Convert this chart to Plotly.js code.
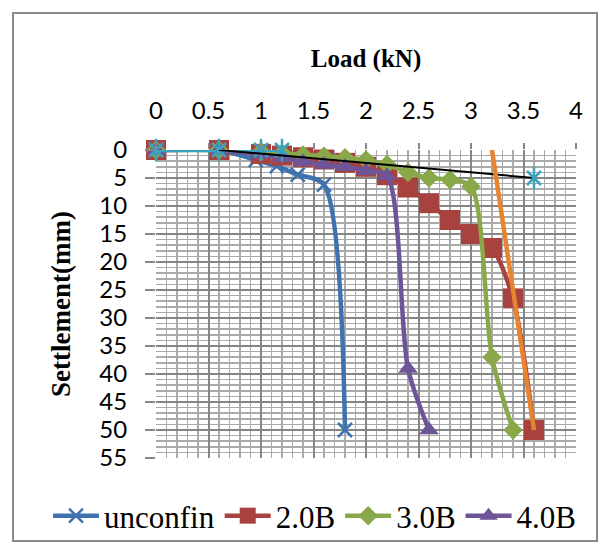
<!DOCTYPE html>
<html>
<head>
<meta charset="utf-8">
<script src="https://cdn.plot.ly/plotly-3.0.1.min.js"></script>
<style>
html,body{margin:0;padding:0;background:#fff;}
#chart{width:599px;height:544px;}
</style>
</head>
<body>
<div id="chart"></div>
<script>
// ---- data ----
const seriesNames = ["unconfin", "2.0B", "3.0B", "4.0B"];

const unconfinLoad   = [0, 0.6, 0.95, 1.15, 1.35, 1.6, 1.8];
const unconfinSettle = [0, 0, 1.8, 2.9, 4.4, 6.2, 50];

const b20Load   = [0, 0.6, 1.0, 1.2, 1.4, 1.6, 1.8, 2.0, 2.2, 2.4, 2.6, 2.8, 3.0, 3.2, 3.4, 3.6];
const b20Settle = [0, 0, 0.7, 1.0, 1.3, 1.7, 2.3, 3.0, 4.5, 6.7, 9.5, 12.5, 15, 17.5, 26.5, 50];

const b30Load   = [0, 0.6, 1.0, 1.2, 1.4, 1.6, 1.8, 2.0, 2.2, 2.4, 2.6, 2.8, 3.0, 3.2, 3.4];
const b30Settle = [0, 0, 0.3, 0.6, 0.9, 1.1, 1.4, 1.8, 2.6, 4.0, 5.0, 5.3, 6.5, 37, 50];

const b40Load   = [0, 0.6, 1.0, 1.2, 1.4, 1.6, 1.8, 2.0, 2.2, 2.4, 2.6];
const b40Settle = [0, 0, 0.8, 1.4, 2.1, 2.6, 3.0, 3.7, 4.6, 39, 50];

// unlabelled helper series
const refLoad   = [0, 0.6, 1.0, 1.2];
const refSettle = [0, 0, 0, 0];
const tangent1Load   = [0.6, 3.6];
const tangent1Settle = [0, 5];
const starLoad   = [3.6];
const starSettle = [5];
const tangent2Load   = [3.2, 3.6];
const tangent2Settle = [0, 50];

const xTickVals = [0, 0.5, 1, 1.5, 2, 2.5, 3, 3.5, 4];
const yTickVals = [0, 5, 10, 15, 20, 25, 30, 35, 40, 45, 50, 55];

// ---- styles ----
const cBlue = "#3f72ae", cRed = "#a8423f", cGreen = "#88a84a", cPurple = "#6e5598",
      cCyan = "#3ba3c0", cOrange = "#e8832f";
const LW = 4.5;

const traces = [
  {x: unconfinLoad, y: unconfinSettle, name: seriesNames[0], mode: "lines+markers", cliponaxis: false,
   line: {color: cBlue, width: LW, shape: "spline", smoothing: 0.8},
   marker: {symbol: "x-thin-open", size: 14, color: cBlue, line: {color: cBlue, width: 2.5}},
   legendrank: 1},
  {x: b20Load, y: b20Settle, name: seriesNames[1], mode: "lines+markers", cliponaxis: false,
   line: {color: cRed, width: LW, shape: "spline", smoothing: 0.8},
   marker: {symbol: "square", size: 20, color: cRed},
   legendrank: 2},
  {x: b30Load, y: b30Settle, name: seriesNames[2], mode: "lines+markers", cliponaxis: false,
   line: {color: cGreen, width: LW, shape: "spline", smoothing: 0.8},
   marker: {symbol: "diamond", size: 15, color: cGreen},
   legendrank: 3},
  {x: b40Load, y: b40Settle, name: seriesNames[3], mode: "lines+markers", cliponaxis: false,
   line: {color: cPurple, width: LW, shape: "spline", smoothing: 0.8},
   marker: {symbol: "triangle-up", size: 17, color: cPurple},
   legendrank: 4},
  {x: refLoad, y: refSettle, mode: "lines+markers", showlegend: false, hoverinfo: "skip", cliponaxis: false,
   line: {color: cCyan, width: LW},
   marker: {symbol: "x-thin-open", size: 14, color: cCyan, line: {color: cCyan, width: 2.5}}},
  {x: refLoad, y: refSettle, mode: "markers", showlegend: false, hoverinfo: "skip", cliponaxis: false,
   marker: {symbol: "line-ns-open", size: 16, color: cCyan, line: {color: cCyan, width: 2.5}}},
  {x: tangent1Load, y: tangent1Settle, mode: "lines", showlegend: false, hoverinfo: "skip", cliponaxis: false,
   line: {color: "#000000", width: 2}},
  {x: starLoad, y: starSettle, mode: "markers", showlegend: false, hoverinfo: "skip", cliponaxis: false,
   marker: {symbol: "x-thin-open", size: 14, color: cCyan, line: {color: cCyan, width: 2.5}}},
  {x: starLoad, y: starSettle, mode: "markers", showlegend: false, hoverinfo: "skip", cliponaxis: false,
   marker: {symbol: "line-ns-open", size: 16, color: cCyan, line: {color: cCyan, width: 2.5}}},
  {x: tangent2Load, y: tangent2Settle, mode: "lines", showlegend: false, hoverinfo: "skip", cliponaxis: false,
   line: {color: cOrange, width: LW}}
];

const L = 156, R = 576, T = 150, B = 458, W = 599, H = 544;
const px2x = p => (p - L) / (R - L);
const px2y = p => (B - p) / (B - T);

const layout = {
  width: W, height: H,
  margin: {l: L, r: W - R, t: T, b: H - B, pad: 0, autoexpand: false},
  paper_bgcolor: "#ffffff", plot_bgcolor: "#ffffff",
  showlegend: true,
  xaxis: {
    side: "top", range: [0, 4], tickvals: xTickVals, ticktext: xTickVals.map(String),
    showgrid: true, gridcolor: "#868686", gridwidth: 2,
    minor: {dtick: 0.1, showgrid: true, gridcolor: "#aaaaaa", gridwidth: 1.5, ticks: ""},
    ticks: "outside", ticklen: 6, tickcolor: "#868686", tickwidth: 2,
    zeroline: false, showline: false, automargin: false,
    tickfont: {family: "Lato, sans-serif", size: 24, color: "#000"},
    ticklabelstandoff: 14,
    title: {text: "<b>Load (kN)</b>", font: {family: "Liberation Serif, serif", size: 25, color: "#000"}, standoff: 20}
  },
  yaxis: {
    range: [55, 0], tickvals: yTickVals, ticktext: yTickVals.map(String),
    showgrid: true, gridcolor: "#868686", gridwidth: 2,
    minor: {dtick: 1, showgrid: true, gridcolor: "#aaaaaa", gridwidth: 1.5, ticks: ""},
    ticks: "outside", ticklen: 10, tickcolor: "#868686", tickwidth: 2,
    zeroline: false, showline: false, automargin: false,
    tickfont: {family: "Lato, sans-serif", size: 24, color: "#000"},
    ticklabelstandoff: 13,
    title: {text: "<b>Settlement(mm)</b>", font: {family: "Liberation Serif, serif", size: 27, color: "#000"}, standoff: 20}
  },
  legend: {
    orientation: "h", x: px2x(48), xanchor: "left", y: px2y(516), yanchor: "middle",
    font: {family: "Liberation Serif, serif", size: 31, color: "#000"},
    bgcolor: "rgba(0,0,0,0)", traceorder: "normal", itemwidth: 46
  },
  shapes: [
    {type: "rect", xref: "paper", yref: "paper",
     x0: px2x(13), x1: px2x(597), y0: px2y(541), y1: px2y(13),
     line: {color: "#8a8a8a", width: 2}, fillcolor: "rgba(0,0,0,0)", layer: "below"}
  ]
};

Plotly.newPlot("chart", traces, layout, {displayModeBar: false, staticPlot: true});
</script>
</body>
</html>
